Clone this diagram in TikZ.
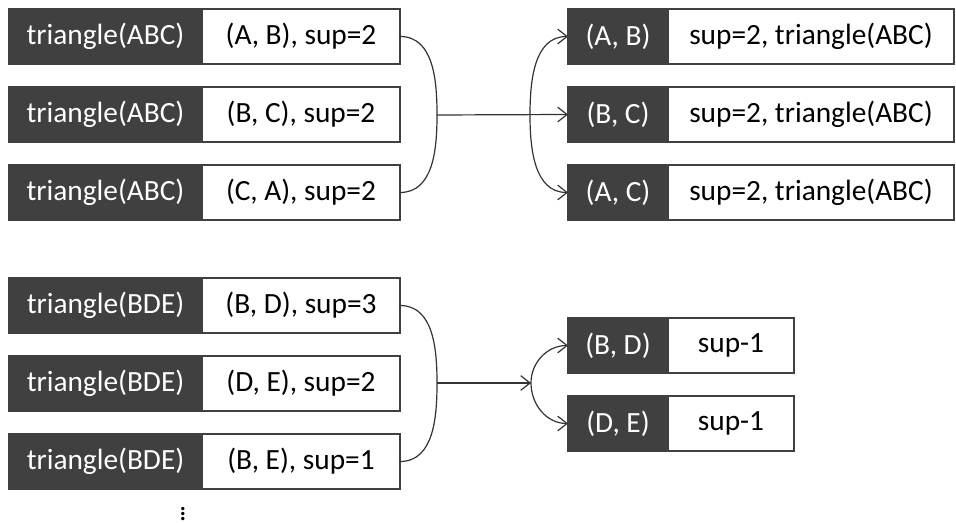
\documentclass[tikz,border=0pt]{standalone}
\usepackage{fontspec}
\setmainfont{Carlito}
\usetikzlibrary{positioning,arrows.meta}

\begin{document}
\begin{tikzpicture}[x=0.75pt,y=-0.75pt,
   every node/.style={draw=black!75,line width=1.1pt,inner sep=0pt,outer sep=0pt,
     minimum height=41.25pt,font=\fontsize{22}{26}\selectfont},
   darkbox/.style={fill=black!75,text=white},
   lightbox/.style={fill=white,text=black},
   link/.style={draw=black!80,line width=0.9pt},
   arr/.style={link,-{Straight Barb[length=7pt,width=11pt]}}]
\useasboundingbox (0,0) rectangle (956,523);

% left column, first group
\node[darkbox,anchor=north west,minimum width=144.75pt] (t1) at (9,9) {triangle(ABC)};
\node[lightbox,right=0pt of t1,minimum width=148.5pt] (p1) {(A, B), sup=2};
\node[darkbox,below=17.25pt of t1,minimum width=144.75pt] (t2) {triangle(ABC)};
\node[lightbox,right=0pt of t2,minimum width=148.5pt] (p2) {(B, C), sup=2};
\node[darkbox,below=17.25pt of t2,minimum width=144.75pt] (t3) {triangle(ABC)};
\node[lightbox,right=0pt of t3,minimum width=148.5pt] (p3) {(C, A), sup=2};

% left column, second group
\node[darkbox,anchor=north west,minimum width=144.75pt] (t4) at (9,278) {triangle(BDE)};
\node[lightbox,right=0pt of t4,minimum width=148.5pt] (p4) {(B, D), sup=3};
\node[darkbox,below=17.25pt of t4,minimum width=144.75pt] (t5) {triangle(BDE)};
\node[lightbox,right=0pt of t5,minimum width=148.5pt] (p5) {(D, E), sup=2};
\node[darkbox,below=17.25pt of t5,minimum width=144.75pt] (t6) {triangle(BDE)};
\node[lightbox,right=0pt of t6,minimum width=148.5pt] (p6) {(B, E), sup=1};
\node[draw=none,minimum height=0pt,font=\fontsize{21}{21}\selectfont] (more) at (183,510) {$\vdots$};

% right column, edges with their triangles
\node[darkbox,anchor=north west,minimum width=75pt] (q1) at (568,9) {(A, B)};
\node[lightbox,right=0pt of q1,minimum width=214.5pt] (qs1) {sup=2, triangle(ABC)};
\node[darkbox,below=17.25pt of q1,minimum width=75pt] (q2) {(B, C)};
\node[lightbox,right=0pt of q2,minimum width=214.5pt] (qs2) {sup=2, triangle(ABC)};
\node[darkbox,below=17.25pt of q2,minimum width=75pt] (q3) {(A, C)};
\node[lightbox,right=0pt of q3,minimum width=214.5pt] (qs3) {sup=2, triangle(ABC)};

% right column, decremented edges
\node[darkbox,anchor=north west,minimum width=75pt] (r1) at (568,318) {(B, D)};
\node[lightbox,right=0pt of r1,minimum width=94.5pt] (rs1) {sup-1};
\node[darkbox,below=17.25pt of r1,minimum width=75pt] (r2) {(D, E)};
\node[lightbox,right=0pt of r2,minimum width=94.5pt] (rs2) {sup-1};

% merge and split
\coordinate (j1) at (437,115);
\coordinate (k1) at (530,115);
\coordinate (j2) at (437,383);
\coordinate (k2) at (531,383);

\draw[link] (p1.east) to[out=0,in=90] (j1) to[out=-90,in=0] (p3.east);
\draw[arr] (j1) -- (q2.west);
\draw[arr] (k1) to[out=90,in=180] (q1.west);
\draw[arr] (k1) to[out=-90,in=180] (q3.west);

\draw[link] (p4.east) to[out=0,in=90] (j2) to[out=-90,in=0] (p6.east);
\draw[arr] (j2) -- (k2);
\draw[arr] (k2) to[out=90,in=180] (r1.west);
\draw[arr] (k2) to[out=-90,in=180] (r2.west);
\end{tikzpicture}
\end{document}
